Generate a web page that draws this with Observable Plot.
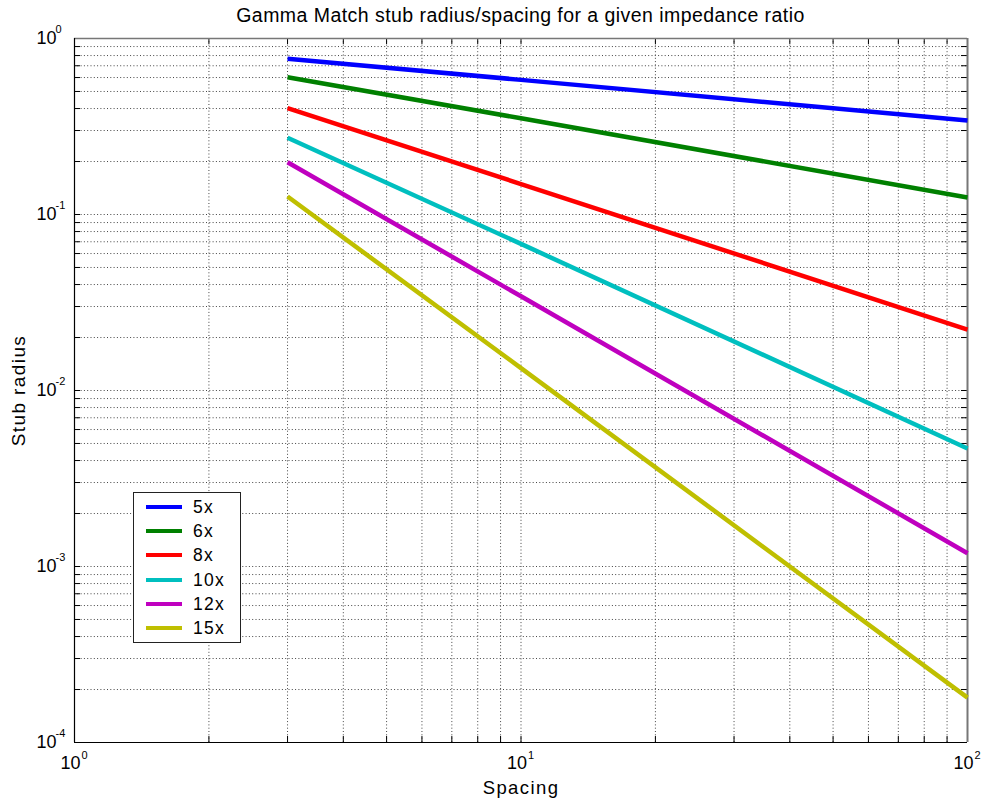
<!DOCTYPE html>
<html>
<head>
<meta charset="utf-8">
<script src="https://cdn.jsdelivr.net/npm/d3@7"></script>
<script src="https://cdn.jsdelivr.net/npm/@observablehq/plot@0.6"></script>
<style>
  html, body { margin: 0; padding: 0; background: #fff; overflow: hidden; }
  #root { position: relative; width: 987px; height: 803px; font-family: "Liberation Sans", Arial, Helvetica, sans-serif; }
  #title { height: 30px; line-height: 30px; margin-left: 74px; width: 893px; text-align: center; font-size: 19.5px; letter-spacing: 0.45px; color: #000; white-space: nowrap; }
  #chart svg { display: block; }
  .legend { position: absolute; left: 133px; top: 492px; width: 108px; height: 151px; box-sizing: border-box;
            border: 1px solid #222; background: #fff; }
  .legend .row { position: absolute; left: 0; height: 24px; width: 100%; }
  .legend .sw { position: absolute; left: 12px; top: 10px; width: 36px; height: 4px; }
  .legend .lb { position: absolute; left: 59px; top: 0; line-height: 24px; font-size: 17.5px; letter-spacing: 1.3px; color: #000; }
</style>
</head>
<body>
<div id="root">
  <div id="title">Gamma Match stub radius/spacing for a given impedance ratio</div>
  <div id="chart"></div>
</div>
<script>
// ---- data ----
const spacing = [3, 10, 100];
const ratios = ["5x", "6x", "8x", "10x", "12x", "15x"];
const radius5x  = [0.767, 0.582, 0.342];
const radius6x  = [0.603, 0.352, 0.125];
const radius8x  = [0.402, 0.149, 0.0222];
const radius10x = [0.273, 0.0681, 0.00468];
const radius12x = [0.198, 0.0343, 0.00119];
const radius15x = [0.1265, 0.0134, 0.00018];
const colors = ["#0000ff", "#008000", "#ff0000", "#00bfbf", "#bf00bf", "#bfbf00"];
const xTickExps = [0, 1, 2];
const yTickExps = [-4, -3, -2, -1, 0];

const series = [radius5x, radius6x, radius8x, radius10x, radius12x, radius15x];
const data = [];
ratios.forEach((r, i) => spacing.forEach((s, j) => data.push({ratio: r, spacing: s, radius: series[i][j]})));

const xMajor = xTickExps.map(e => 10 ** e);
const yMajor = yTickExps.map(e => 10 ** e);
const minorOf = (exps) => {
  const out = [];
  for (let k = 0; k < exps.length - 1; k++) for (let m = 2; m <= 9; m++) out.push(m * 10 ** exps[k]);
  return out;
};
const xMinor = minorOf(xTickExps);
const yMinor = minorOf(yTickExps);
const xAll = xMajor.concat(xMinor);
const yAll = yMajor.concat(yMinor);

const W = 987, H = 773, mL = 74, mR = 20, mT = 8, mB = 61;
const iw = W - mL - mR, ih = H - mT - mB;
const tick = 6;
const font = "Liberation Sans, Arial, sans-serif";

const chart = Plot.plot({
  width: W, height: H,
  marginLeft: mL, marginRight: mR, marginTop: mT, marginBottom: mB,
  style: {fontFamily: font, background: "#fff", overflow: "visible"},
  x: {type: "log", domain: [1, 100], axis: null},
  y: {type: "log", domain: [1e-4, 1], axis: null},
  color: {domain: ratios, range: colors},
  marks: [
    // dotted grid (major + minor)
    Plot.ruleX(xAll.filter(v => v > 1 && v < 100), {stroke: "#444", strokeWidth: 1, strokeDasharray: "1,2.3"}),
    Plot.ruleY(yAll.filter(v => v > 1e-4 && v < 1), {stroke: "#444", strokeWidth: 1, strokeDasharray: "1,2.3"}),
    // inner tick marks on all four sides
    Plot.ruleX(xAll, {insetTop: ih - tick, stroke: "#000"}),
    Plot.ruleX(xAll, {insetBottom: ih - tick, stroke: "#000"}),
    Plot.ruleY(yAll, {insetRight: iw - tick, stroke: "#000"}),
    Plot.ruleY(yAll, {insetLeft: iw - tick, stroke: "#000"}),
    // axes box
    Plot.ruleY([1], {stroke: "#777", strokeWidth: 1.5}),
    Plot.ruleX([100], {stroke: "#777", strokeWidth: 2}),
    Plot.ruleY([1e-4], {stroke: "#000", strokeWidth: 1.2}),
    Plot.ruleX([1], {stroke: "#000", strokeWidth: 1.2}),
    // curves
    Plot.line(data, {x: "spacing", y: "radius", z: "ratio", stroke: "ratio", strokeWidth: 4.5, strokeLinecap: "butt"}),
    // y tick labels 10^e
    Plot.text(yTickExps, {y: e => 10 ** e, frameAnchor: "left", text: () => "10", textAnchor: "start", lineAnchor: "middle", dx: -38, fontSize: 18, fill: "#000"}),
    Plot.text(yTickExps, {y: e => 10 ** e, frameAnchor: "left", text: e => String(e), textAnchor: "start", lineAnchor: "middle", dx: -19, dy: -9, fontSize: 11, fill: "#000"}),
    // x tick labels 10^e
    Plot.text(xTickExps, {x: e => 10 ** e, frameAnchor: "bottom", text: () => "10", textAnchor: "end", lineAnchor: "middle", dx: 6, dy: 21, fontSize: 18, fill: "#000"}),
    Plot.text(xTickExps, {x: e => 10 ** e, frameAnchor: "bottom", text: e => String(e), textAnchor: "start", lineAnchor: "middle", dx: 7, dy: 13, fontSize: 11, fill: "#000"}),
    // axis labels
    Plot.text(["Spacing"], {frameAnchor: "bottom", textAnchor: "middle", lineAnchor: "middle", dy: 46, fontSize: 18.5, fill: "#000"}),
    Plot.text(["Stub radius"], {frameAnchor: "left", textAnchor: "middle", lineAnchor: "middle", rotate: -90, dx: -56, fontSize: 19, fill: "#000"})
  ]
});
document.getElementById("chart").appendChild(chart);

// letter spacing for axis labels
chart.querySelectorAll("text").forEach(t => {
  if (t.textContent === "Spacing" || t.textContent === "Stub radius") t.setAttribute("letter-spacing", "1.4px");
});

// legend
const legend = document.createElement("div");
legend.className = "legend";
ratios.forEach((r, i) => {
  const row = document.createElement("div");
  row.className = "row";
  row.style.top = (1.7 + i * 24.3) + "px";
  const sw = document.createElement("span");
  sw.className = "sw";
  sw.style.background = colors[i];
  const lb = document.createElement("span");
  lb.className = "lb";
  lb.textContent = r;
  row.appendChild(sw); row.appendChild(lb);
  legend.appendChild(row);
});
document.getElementById("root").appendChild(legend);
</script>
</body>
</html>
